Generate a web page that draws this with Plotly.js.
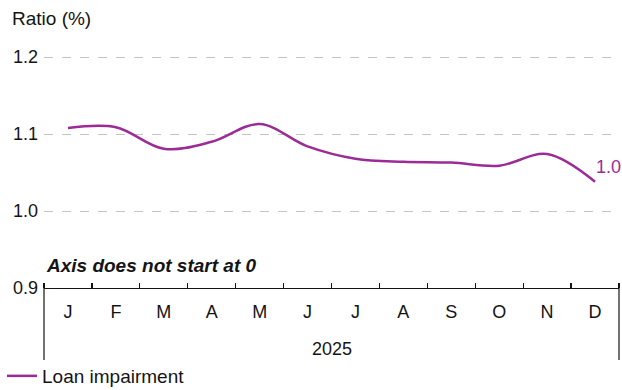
<!DOCTYPE html>
<html>
<head>
<meta charset="utf-8">
<script src="https://cdn.plot.ly/plotly-3.0.1.min.js"></script>
<style>html,body{margin:0;padding:0;background:#fff}#chart{width:622px;height:390px}</style>
</head>
<body>
<div id="chart"></div>
<script>
const months = ["J","F","M","A","M","J","J","A","S","O","N","D"];
const seriesName = "Loan impairment";
const values = [1.108, 1.109, 1.081, 1.090, 1.113, 1.084, 1.068, 1.064, 1.063, 1.059, 1.074, 1.038];
const yearLabel = "2025";
const yTicks = [0.9, 1.0, 1.1, 1.2];

const purple = "#9c2b98";
const ink = "#141414";
const font = "Liberation Sans, Arial, Helvetica, sans-serif";
const fs = 19;
const xIdx = months.map((_, i) => i);

const trace = {
  x: xIdx, y: values, type: "scatter", mode: "lines", name: seriesName,
  line: {color: purple, width: 2.5, shape: "spline", smoothing: 1.0},
  hoverinfo: "skip"
};

const layout = {
  width: 622, height: 390,
  margin: {l: 44, r: 3, t: 56, b: 102, autoexpand: false},
  paper_bgcolor: "#fff", plot_bgcolor: "#fff",
  font: {family: font, color: ink, size: fs},
  title: {text: "Ratio (%)", x: 12/622, xanchor: "left", xref: "container",
          y: 1 - 18/390, yanchor: "middle", yref: "container",
          font: {family: font, size: fs, color: ink}},
  xaxis: {
    range: [-0.5, 11.5], tickvals: xIdx, ticktext: months,
    ticks: "outside", ticklen: 7, tickcolor: "rgba(0,0,0,0)",
    showgrid: false, zeroline: false,
    showline: true, linecolor: ink, linewidth: 1.2,
    tickfont: {family: font, size: fs - 1, color: ink},
    minor: {tick0: -0.5, dtick: 1, ticks: "inside", ticklen: 5, tickcolor: ink, tickwidth: 1.2, showgrid: false},
    fixedrange: true
  },
  yaxis: {
    range: [0.9, 1.2015], tickvals: yTicks, ticktext: yTicks.map(v => v.toFixed(1)),
    showgrid: true, gridcolor: "#c4c4c4", griddash: "dash", gridwidth: 1,
    zeroline: false, showline: false, ticks: "", ticklabelstandoff: 5,
    tickfont: {family: font, size: fs - 1, color: ink},
    fixedrange: true
  },
  showlegend: true,
  legend: {orientation: "h", x: -42/575, xanchor: "left",
           yref: "container", y: 1 - 376/390, yanchor: "middle",
           font: {family: font, size: fs, color: ink}, itemwidth: 30,
           bgcolor: "rgba(0,0,0,0)"},
  shapes: [
    {type: "line", xref: "paper", yref: "paper", x0: 0, x1: 0, y0: 0, y1: -0.31, line: {color: ink, width: 1.2}},
    {type: "line", xref: "paper", yref: "paper", x0: 1, x1: 1, y0: 0, y1: -0.31, line: {color: ink, width: 1.2}}
  ],
  annotations: [
    {text: "<b><i>Axis does not start at 0</i></b>", xref: "paper", yref: "paper",
     x: 0, y: 0.095, xanchor: "left", yanchor: "middle", showarrow: false,
     font: {family: font, size: fs, color: ink}},
    {text: yearLabel, xref: "paper", yref: "paper", x: 0.5, y: -0.265, xanchor: "center",
     yanchor: "middle", showarrow: false, font: {family: font, size: fs - 1, color: ink}},
    {text: values[values.length - 1].toFixed(1), x: xIdx[xIdx.length - 1], y: values[values.length - 1],
     xref: "x", yref: "y", xanchor: "left", yanchor: "middle", xshift: -1, yshift: 15,
     showarrow: false, font: {family: font, size: fs - 1, color: purple}}
  ]
};

Plotly.newPlot("chart", [trace], layout, {displayModeBar: false, staticPlot: true});
</script>
</body>
</html>
